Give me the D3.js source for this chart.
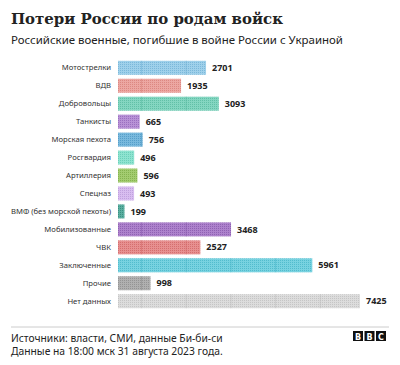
<!DOCTYPE html>
<html><head><meta charset="utf-8">
<script src="https://cdn.jsdelivr.net/npm/d3@7"></script>
<style>body{margin:0;background:#fff}svg{display:block}</style>
</head><body>
<script>
const categories = ["Мотострелки","ВДВ","Добровольцы","Танкисты","Морская пехота","Росгвардия","Артиллерия","Спецназ","ВМФ (без морской пехоты)","Мобилизованные","ЧВК","Заключенные","Прочие","Нет данных"];
const values = [2701,1935,3093,665,756,496,596,493,199,3468,2527,5961,998,7425];
const colors = ["#9fd0ea","#eca7a2","#84d6c1","#b892d6","#79b9dd","#8ee3d0","#a3cc70","#d8bdf0","#5aaea0","#ad82cc","#e79090","#78d2e0","#b0b0b0","#dcdcdc"];
const dotColors = ["#6fb0d4","#d77d77","#55b89f","#9063b8","#4b95c2","#5fc9b2","#7aab45","#b898d8","#2f8576","#8556aa","#cf6464","#45b4c6","#8a8a8a","#bdbdbd"];

const W=400,H=365;
const svg=d3.select("body").append("svg").attr("width",W).attr("height",H);
const defs=svg.append("defs");
colors.forEach((c,i)=>{
  const p=defs.append("pattern").attr("id","pat"+i).attr("patternUnits","userSpaceOnUse")
    .attr("width",2).attr("height",2);
  p.append("rect").attr("width",2).attr("height",2).attr("fill",c);
  p.append("rect").attr("width",1).attr("height",1).attr("fill",dotColors[i]).attr("opacity",0.75);
});

function fitText(sel, target, base){
  const w=sel.node().getComputedTextLength();
  sel.attr("font-size", base*target/w);
}

fitText(svg.append("text").attr("x",11).attr("y",24).text("Потери России по родам войск")
  .attr("font-family","DejaVu Serif").attr("font-weight","bold").attr("font-size",17).attr("fill","#222"),272,17);
fitText(svg.append("text").attr("x",11).attr("y",44).text("Российские военные, погибшие в войне России с Украиной")
  .attr("font-family","Noto Sans").attr("font-size",12).attr("fill","#222"),332,12);

const x=d3.scaleLinear().domain([0,7425]).range([118,360]);
const y=d3.scaleBand().domain(categories).range([59,310]).paddingInner(0.22).paddingOuter(0.1);

const g=svg.append("g");
categories.forEach((c,i)=>{
  const v=values[i];
  g.append("rect").attr("x",x(0)).attr("y",y(c)).attr("width",x(v)-x(0)).attr("height",y.bandwidth())
    .attr("fill","url(#pat"+i+")");
  for(let xv=x(0)+23.5; xv<x(v)-1; xv+=44.7){
    g.append("line").attr("x1",xv).attr("x2",xv).attr("y1",y(c)).attr("y2",y(c)+y.bandwidth())
      .attr("stroke",dotColors[i]).attr("stroke-width",0.8).attr("opacity",0.6);
  }
  g.append("text").attr("x",111).attr("y",y(c)+y.bandwidth()/2).attr("dy","0.35em")
    .attr("text-anchor","end").attr("font-family","Noto Sans").attr("font-size",7.7).attr("fill","#333").text(c);
  g.append("text").attr("x",x(v)+6).attr("y",y(c)+y.bandwidth()/2).attr("dy","0.35em")
    .attr("font-family","Noto Sans").attr("font-weight","bold").attr("font-size",9).attr("fill","#222").text(v);
});

svg.append("line").attr("x1",11).attr("x2",389).attr("y1",327).attr("y2",327).attr("stroke","#ccc").attr("stroke-width",1);
fitText(svg.append("text").attr("x",11).attr("y",342).text("Источники: власти, СМИ, данные Би-би-си")
  .attr("font-family","Noto Sans").attr("font-size",10).attr("fill","#222"),212,10);
fitText(svg.append("text").attr("x",11).attr("y",355).text("Данные на 18:00 мск 31 августа 2023 года.")
  .attr("font-family","Noto Sans").attr("font-size",10).attr("fill","#222"),212,10);
["B","B","C"].forEach((l,i)=>{
  const bx=353+i*11.5;
  svg.append("rect").attr("x",bx).attr("y",331).attr("width",10).attr("height",10).attr("fill","#111");
  svg.append("text").attr("x",bx+5).attr("y",339.5).attr("text-anchor","middle").attr("font-family","DejaVu Sans")
    .attr("font-weight","bold").attr("font-size",8).attr("fill","#fff").text(l);
});
</script>
</body></html>
